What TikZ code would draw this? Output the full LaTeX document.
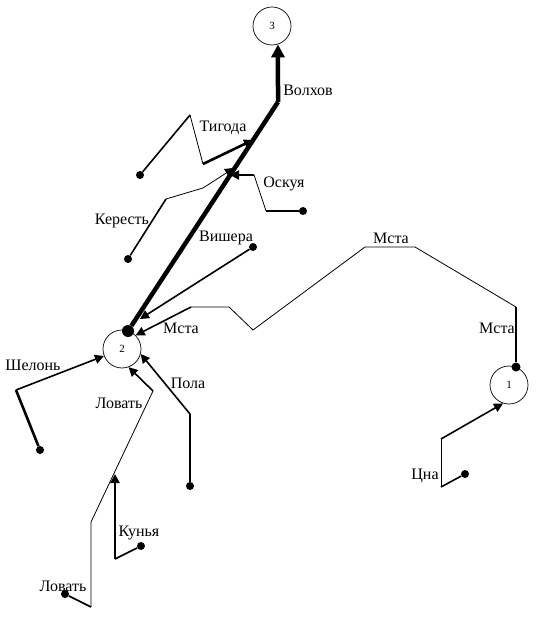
\documentclass[tikz,border=0pt]{standalone}
\usepackage{fontspec}
\setmainfont{Liberation Serif}
\usetikzlibrary{arrows.meta}
\tikzset{
  every picture/.style={x=1pt, y=-1pt},
  lake/.style={draw, circle, line width=0.7pt, minimum size=38pt, inner sep=0pt, font=\fontsize{11}{12}\selectfont},
  source/.style={circle, fill=black, inner sep=0pt, minimum size=#1},
  source/.default=8pt,
  label/.style={font=\fontsize{16}{18}\selectfont, inner sep=0pt},
  thin part/.style={line width=0.8pt},
  mid part/.style={line width=1.6pt},
  wide part/.style={line width=2.6pt},
  heavy part/.style={line width=4.5pt},
  tip/.style={-{Triangle[length=#1, width=#1]}},
  tip/.default=9pt,
}
\begin{document}
\begin{tikzpicture}[line join=miter]
  \useasboundingbox (0,0) rectangle (538,617);
  % lakes
  \node[lake] (lake3) at (272,26) {3};
  \node[lake] (lake2) at (122,349) {2};
  \node[lake] (lake1) at (509,385) {1};
  % bends and sources
  \node[source=12pt] (volkhovstart) at (128,331) {};
  \coordinate (volkhovbend) at (278,102);
  \coordinate (tigodamouth) at (253,140);
  \coordinate (kerestmouth) at (234,168);
  \coordinate (oskuyamouth) at (230,175);
  \coordinate (visheramouth) at (140,319);
  \node[source] (tigodasrc) at (140,175) {};
  \coordinate (tigoda1) at (190,115);
  \coordinate (tigoda2) at (203,164);
  \node[source] (oskuyasrc) at (303,211) {};
  \coordinate (oskuya1) at (266,211);
  \coordinate (oskuya2) at (254,175);
  \node[source] (kerestsrc) at (128,259) {};
  \coordinate (kerest1) at (166,199);
  \coordinate (kerest2) at (203,188);
  \node[source] (visherasrc) at (253,247) {};
  \node[source=9pt] (mstasrc) at (516,367) {};
  \coordinate (msta1) at (516,307);
  \coordinate (msta2) at (415,247);
  \coordinate (msta3) at (365,247);
  \coordinate (msta4) at (253,330);
  \coordinate (msta5) at (229,307);
  \coordinate (msta6) at (191,307);
  \node[source] (shelonsrc) at (40,450) {};
  \coordinate (shelon1) at (16,390);
  \node[source] (lovatsrc) at (65,594) {};
  \coordinate (lovat1) at (91,607);
  \coordinate (lovat2) at (91,522);
  \coordinate (lovat3) at (153,391);
  \node[source] (polasrc) at (190,486) {};
  \coordinate (pola1) at (190,414);
  \node[source] (kunyasrc) at (141,546) {};
  \coordinate (kunya1) at (115,559);
  \coordinate (kunyamouth) at (115,474);
  \node[source] (tsnasrc) at (465,474) {};
  \coordinate (tsna1) at (441,487);
  \coordinate (tsna2) at (441,439);
  % rivers
  \draw[heavy part] (volkhovstart) -- (volkhovbend);
  \draw[heavy part, tip=13pt] (volkhovbend) -- (lake3.-72);
  \draw[mid part] (tigodasrc) -- (tigoda1);
  \draw[thin part] (tigoda1) -- (tigoda2);
  \draw[wide part, tip] (tigoda2) -- (tigodamouth);
  \draw[wide part] (oskuyasrc) -- (oskuya1);
  \draw[thin part] (oskuya1) -- (oskuya2);
  \draw[wide part, tip] (oskuya2) -- (oskuyamouth);
  \draw[mid part] (kerestsrc) -- (kerest1);
  \draw[thin part] (kerest1) -- (kerest2);
  \draw[thin part, tip] (kerest2) -- (kerestmouth);
  \draw[mid part, tip] (visherasrc) -- (visheramouth);
  \draw[wide part] (mstasrc) -- (msta1);
  \draw[thin part] (msta1) -- (msta2) -- (msta3) -- (msta4) -- (msta5) -- (msta6);
  \draw[mid part, tip] (msta6) -- (lake2.45);
  \draw[wide part] (shelonsrc) -- (shelon1);
  \draw[mid part, tip] (shelon1) -- (lake2);
  \draw[mid part] (lovatsrc) -- (lovat1);
  \draw[thin part] (lovat1) -- (lovat2) -- (lovat3);
  \draw[mid part, tip] (lovat3) -- (lake2.-70);
  \draw[wide part] (polasrc) -- (pola1);
  \draw[mid part, tip] (pola1) -- (lake2.-15);
  \draw[mid part] (kunyasrc) -- (kunya1);
  \draw[wide part, tip] (kunya1) -- (kunyamouth);
  \draw[mid part] (tsnasrc) -- (tsna1);
  \draw[thin part] (tsna1) -- (tsna2);
  \draw[mid part, tip] (tsna2) -- (lake1.-108);
  % names
  \node[label] (volkhovlabel) at (308,90) {Волхов};
  \node[label] (tigodalabel) at (223,128) {Тигода};
  \node[label] (oskuyalabel) at (284,184) {Оскуя};
  \node[label] (kerestlabel) at (122,221) {Кересть};
  \node[label] (visheralabel) at (226,238) {Вишера};
  \node[label] (mstalabela) at (181,328) {Мста};
  \node[label] (mstalabelb) at (391,238) {Мста};
  \node[label] (mstalabelc) at (497,328) {Мста};
  \node[label] (shelonlabel) at (33,365) {Шелонь};
  \node[label] (lovatlabela) at (119,403) {Ловать};
  \node[label] (polalabel) at (188,383) {Пола};
  \node[label] (kunyalabel) at (139,533) {Кунья};
  \node[label] (lovatlabelb) at (63,586) {Ловать};
  \node[label] (tsnalabel) at (425,476) {Цна};
\end{tikzpicture}
\end{document}
